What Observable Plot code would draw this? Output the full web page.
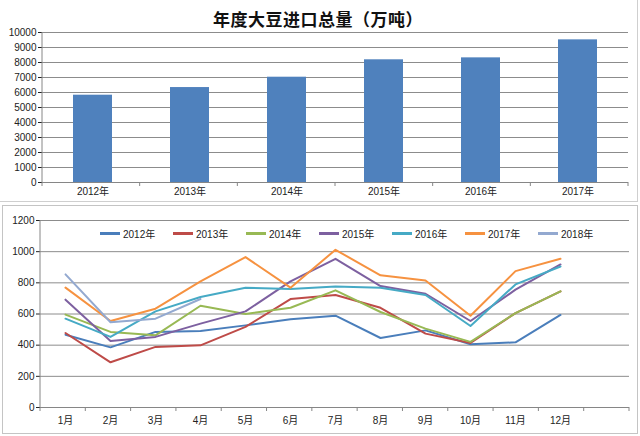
<!DOCTYPE html>
<html><head><meta charset="utf-8">
<script src="https://cdn.jsdelivr.net/npm/d3@7"></script>
<script src="https://cdn.jsdelivr.net/npm/@observablehq/plot@0.6"></script>
<style>
body{margin:0;background:#fff;font-family:"Liberation Sans","Noto Sans CJK SC",sans-serif;}
#wrap{position:relative;width:640px;height:436px;overflow:hidden;background:#fff;}
#title{position:absolute;left:0;top:6px;width:636px;text-align:center;font:bold 17px "Noto Sans CJK SC",sans-serif;color:#111;letter-spacing:0.5px;}
#topc{position:absolute;left:0;top:0;}
#botc{position:absolute;left:0;top:205px;}
#frameTop{position:absolute;left:-2px;top:-2px;width:640px;height:204px;border:1px solid #cfcfcf;box-sizing:border-box;}
#frameBot{position:absolute;left:2px;top:205px;width:636px;height:229px;border:1px solid #c4c4c4;box-sizing:border-box;}
#legend{position:absolute;left:100px;top:226px;display:flex;font:10px "Liberation Sans","Noto Sans CJK SC",sans-serif;color:#222;}
#legend .it{display:flex;align-items:center;width:73px;}
#legend .sw{width:20px;height:2.5px;margin-right:3px;}
svg text{font-family:"Liberation Sans","Noto Sans CJK SC",sans-serif;}
</style></head>
<body><div id="wrap">
<div id="frameTop"></div><div id="frameBot"></div>
<div id="topc"></div><div id="botc"></div>
<div id="title">年度大豆进口总量（万吨）</div>
<div id="legend"></div>
</div>
<script>
// ---- data ----
const years = ["2012年","2013年","2014年","2015年","2016年","2017年"];
const totals = [5820, 6330, 7020, 8180, 8310, 9510];
const topTicks = [0,1000,2000,3000,4000,5000,6000,7000,8000,9000,10000];

const months = ["1月","2月","3月","4月","5月","6月","7月","8月","9月","10月","11月","12月"];
const seriesNames = ["2012年","2013年","2014年","2015年","2016年","2017年","2018年"];
const s2012 = [467, 386, 485, 491, 527, 566, 589, 446, 495, 406, 418, 594];
const s2013 = [478, 290, 389, 399, 517, 696, 722, 640, 474, 414, 606, 745];
const s2014 = [596, 485, 463, 653, 600, 640, 752, 613, 506, 421, 606, 745];
const s2015 = [692, 427, 453, 538, 617, 809, 954, 779, 730, 555, 756, 918];
const s2016 = [570, 453, 617, 709, 769, 760, 777, 769, 722, 523, 790, 905];
const s2017 = [769, 555, 634, 809, 965, 769, 1012, 848, 815, 589, 875, 954];
const s2018 = [854, 547, 570, 696];
const botTicks = [0,200,400,600,800,1000,1200];
const colors = ["#4A7EBB","#BE4B48","#98B954","#7D60A0","#46AAC5","#F69240","#93A9D0"];

// ---- top bar chart ----
const bars = years.map((y,i)=>({year:y, value:totals[i]}));
const topChart = Plot.plot({
  width:640, height:200, marginTop:32, marginBottom:18, marginLeft:42, marginRight:12,
  style:{fontSize:"10px", color:"#222", background:"transparent", overflow:"visible"},
  x:{domain:years, paddingInner:0.6, paddingOuter:0.3, label:null, tickSize:0, tickPadding:5},
  y:{domain:[0,10000], ticks:topTicks, label:null, tickSize:4, tickPadding:2, tickFormat:d=>String(d)},
  marks:[
    Plot.ruleY(topTicks.slice(1), {stroke:"#8c8c8c", strokeWidth:1}),
    Plot.barY(bars, {x:"year", y:"value", fill:"#4F81BD"}),
    Plot.ruleY([0], {stroke:"#868686"})
  ]
});
document.getElementById("topc").appendChild(topChart);

// ---- bottom line chart ----
const all = [s2012,s2013,s2014,s2015,s2016,s2017,s2018];
const rows = [];
all.forEach((arr,k)=>arr.forEach((v,i)=>rows.push({series:seriesNames[k], month:months[i], value:v})));
const xDomain = [...months, " "];
const botChart = Plot.plot({
  width:640, height:228, marginTop:15, marginBottom:26, marginLeft:40, marginRight:11,
  style:{fontSize:"10px", color:"#222", background:"transparent", overflow:"visible"},
  x:{type:"point", domain:xDomain, padding:0.5, label:null, tickSize:0, tickPadding:9, tickFormat:d=>d.trim()},
  y:{domain:[0,1200], ticks:botTicks, label:null, tickSize:4, tickPadding:2, tickFormat:d=>String(d)},
  color:{domain:seriesNames, range:colors},
  marks:[
    Plot.ruleY(botTicks.slice(1), {stroke:"#8c8c8c", strokeWidth:1}),
    Plot.ruleY([0], {stroke:"#868686"}),
    Plot.line(rows, {x:"month", y:"value", z:"series", stroke:"series", strokeWidth:2})
  ]
});
document.getElementById("botc").appendChild(botChart);

// vertical axis line and category boundary ticks, placed from the library's scales
function decorate(svg, ys, n, step, start){
  const yr = ys.range;
  const g = d3.select(svg).append("g").attr("stroke","#868686");
  g.append("line").attr("x1",start).attr("x2",start).attr("y1",yr[1]).attr("y2",yr[0]);
  for(let k=0;k<=n;k++){
    const x = start + k*step;
    g.append("line").attr("x1",x).attr("x2",x).attr("y1",yr[0]).attr("y2",yr[0]+4);
  }
}
{
  const xs = topChart.scale("x"), ys = topChart.scale("y");
  const step = (xs.range[1]-xs.range[0])/years.length;
  decorate(topChart, ys, years.length, step, xs.range[0]);
}
{
  const xs = botChart.scale("x"), ys = botChart.scale("y");
  const step = (xs.range[1]-xs.range[0])/xDomain.length;
  decorate(botChart, ys, xDomain.length, step, xs.range[0]);
}

// legend
const lg = document.getElementById("legend");
seriesNames.forEach((n,i)=>{
  const it=document.createElement("div"); it.className="it";
  const sw=document.createElement("div"); sw.className="sw"; sw.style.background=colors[i];
  const t=document.createElement("span"); t.textContent=n;
  it.appendChild(sw); it.appendChild(t); lg.appendChild(it);
});
</script>
</body></html>
